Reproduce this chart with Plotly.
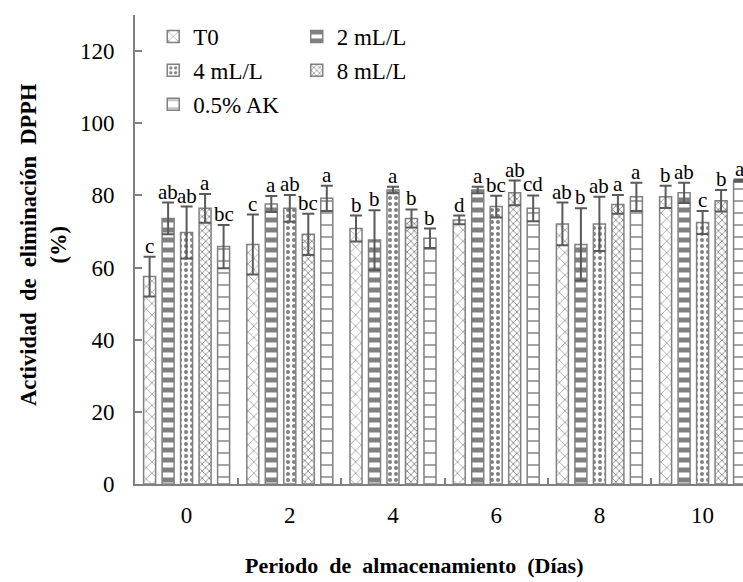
import plotly.graph_objects as go

# Storage days (x categories)
days = ["0", "2", "4", "6", "8", "10"]

# DPPH scavenging activity (%) per treatment: means, standard deviations, significance letters
t0_mean = [57.5, 66.4, 70.8, 73.2, 72.1, 79.6]
t0_err = [5.5, 8.3, 3.6, 1.2, 5.9, 3.1]
t0_sig = ["c", "c", "b", "d", "ab", "b"]

ml2_mean = [73.6, 77.6, 67.6, 81.5, 66.4, 80.7]
ml2_err = [4.4, 2.2, 8.3, 0.9, 10.0, 2.8]
ml2_sig = ["ab", "a", "b", "a", "b", "ab"]

ml4_mean = [69.7, 76.4, 81.5, 76.9, 72.1, 72.5]
ml4_err = [7.2, 3.7, 0.9, 3.0, 7.5, 3.2]
ml4_sig = ["ab", "ab", "a", "bc", "ab", "c"]

ml8_mean = [76.4, 69.2, 73.6, 80.7, 77.5, 78.5]
ml8_err = [4.0, 5.7, 2.5, 3.4, 2.6, 3.0]
ml8_sig = ["a", "bc", "b", "ab", "a", "b"]

ak_mean = [65.8, 79.2, 68.1, 76.4, 79.6, 84.1]
ak_err = [6.0, 3.5, 2.7, 3.6, 3.9, 0.3]
ak_sig = ["bc", "a", "b", "cd", "a", "a"]

# name, values, errors, letters, fill pattern, legend column
series = [
    ("T0", t0_mean, t0_err, t0_sig, dict(shape="x", size=8, solidity=0.15), "legend"),
    ("2 mL/L", ml2_mean, ml2_err, ml2_sig, dict(shape="-", size=10, solidity=0.5), "legend2"),
    ("4 mL/L", ml4_mean, ml4_err, ml4_sig, dict(shape=".", size=6, solidity=0.35), "legend"),
    ("8 mL/L", ml8_mean, ml8_err, ml8_sig, dict(shape="x", size=5, solidity=0.3), "legend2"),
    ("0.5% AK", ak_mean, ak_err, ak_sig, dict(shape="-", size=12, solidity=0.12), "legend"),
]

GRAY = "#808080"
ERR = "#5a5a5a"
FONT = "Liberation Serif, Times New Roman, serif"
BARGAP = 0.104
n = len(series)
slot = (1 - BARGAP) / n
xpos = list(range(len(days)))

fig = go.Figure()
annotations = []
for i, (name, mean, err, sig, pat, leg) in enumerate(series):
    fig.add_trace(go.Bar(
        name=name,
        x=xpos,
        y=mean,
        legend=leg,
        legendgroup=name,
        error_y=dict(type="data", array=err, visible=True, color=ERR, thickness=2, width=6),
        marker=dict(
            color="white",
            line=dict(color=GRAY, width=1.5),
            pattern=dict(fgcolor=GRAY, bgcolor="white", fillmode="replace", **pat),
        ),
    ))
    off = (i - (n - 1) / 2) * slot
    for k, (m, e, s) in enumerate(zip(mean, err, sig)):
        annotations.append(dict(
            x=k + off, y=m + e, xref="x", yref="y", text=s, showarrow=False,
            xanchor="center", yanchor="bottom", yshift=-3,
            font=dict(family=FONT, size=21, color="black"),
        ))

NB = "\u00a0"
# y-axis title, drawn as a rotated two-line label
annotations.append(dict(
    x=-0.151, y=0.51, xref="paper", yref="paper", textangle=-90,
    text=f"<b>Actividad{NB} de{NB} eliminación{NB} DPPH<br>(%)</b>",
    showarrow=False, xanchor="center", yanchor="middle",
    font=dict(family=FONT, size=22.5, color="black"),
))
# x-axis title
annotations.append(dict(
    x=0.4605, y=-0.173, xref="paper", yref="paper",
    text=f"<b>Periodo{NB} de{NB} almacenamiento{NB} (Días)</b>",
    showarrow=False, xanchor="center", yanchor="middle",
    font=dict(family=FONT, size=22, color="black"),
))

legend_style = dict(
    orientation="v", yanchor="top", xanchor="left",
    font=dict(family=FONT, size=23, color="black"),
    bgcolor="rgba(0,0,0,0)", itemwidth=30, tracegroupgap=1,
)

fig.update_layout(
    width=743, height=582,
    margin=dict(l=135, r=0, t=15, b=98),
    paper_bgcolor="white", plot_bgcolor="white",
    barmode="group", bargap=BARGAP, bargroupgap=0.35,
    font=dict(family=FONT, size=23, color="black"),
    annotations=annotations,
    showlegend=True,
    legend=dict(x=0.030, y=1.0, **legend_style),
    legend2=dict(x=0.266, y=1.0, **legend_style),
    xaxis=dict(
        range=[-0.5, -0.5 + 608 / 103.2],
        tickmode="array", tickvals=xpos, ticktext=days,
        tickfont=dict(family=FONT, size=23, color="black"),
        ticks="", showline=True, linecolor=GRAY, linewidth=2,
        showgrid=False, zeroline=False, ticklabelstandoff=9,
        minor=dict(tickvals=[k + 0.5 for k in xpos[:-1]], ticks="inside",
                   ticklen=6, tickcolor=GRAY, tickwidth=1.5, showgrid=False),
    ),
    yaxis=dict(
        range=[0, 130], tickmode="array", tickvals=[0, 20, 40, 60, 80, 100, 120],
        tickfont=dict(family=FONT, size=23, color="black"),
        ticks="inside", ticklen=7, tickcolor=GRAY, tickwidth=1.5,
        showline=True, linecolor=GRAY, linewidth=2,
        showgrid=False, zeroline=False, ticklabelstandoff=14,
    ),
)

fig.write_html("out.html")
